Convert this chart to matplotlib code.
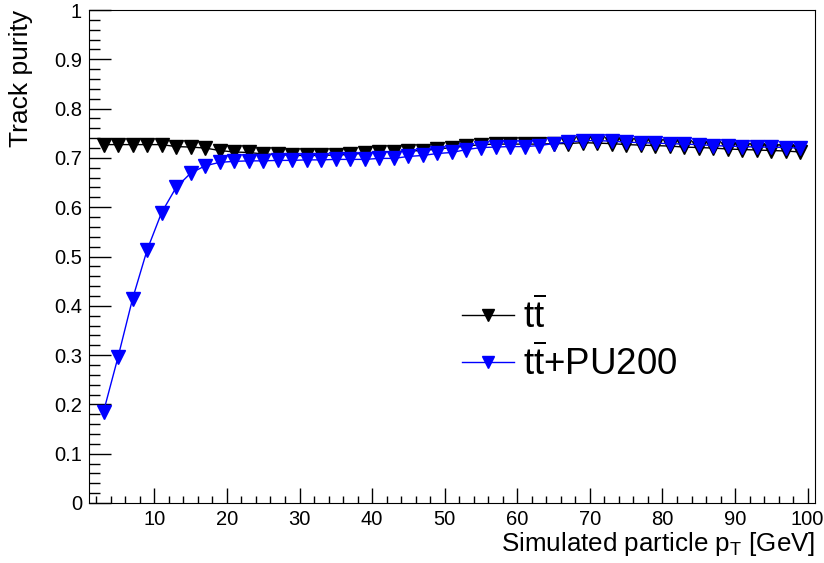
import matplotlib
matplotlib.use("Agg")
import matplotlib.pyplot as plt
import numpy as np
from matplotlib.ticker import MultipleLocator

plt.rcParams['font.family'] = ['Liberation Sans', 'DejaVu Sans']
plt.rcParams['mathtext.fontset'] = 'custom'
plt.rcParams['mathtext.rm'] = 'Liberation Sans'
plt.rcParams['mathtext.it'] = 'Liberation Sans'

# bin centres [GeV]
pt = np.arange(3, 100, 2)

# purity, ttbar (no pile-up)
purity_tt = [0.727, 0.727, 0.727, 0.727, 0.727, 0.723, 0.722, 0.720, 0.715, 0.712,
             0.711, 0.708, 0.707, 0.705, 0.705, 0.705, 0.706, 0.707, 0.710, 0.712,
             0.713, 0.714, 0.715, 0.718, 0.721, 0.724, 0.727, 0.728, 0.728, 0.728,
             0.728, 0.729, 0.729, 0.731, 0.730, 0.729, 0.727, 0.726, 0.725, 0.724,
             0.722, 0.721, 0.720, 0.718, 0.717, 0.716, 0.715, 0.714, 0.712]

# purity, ttbar + PU200
purity_pu = [0.185, 0.296, 0.414, 0.513, 0.589, 0.640, 0.669, 0.684, 0.691, 0.693,
             0.694, 0.694, 0.695, 0.695, 0.696, 0.696, 0.697, 0.697, 0.697, 0.699,
             0.699, 0.703, 0.705, 0.709, 0.711, 0.717, 0.721, 0.722, 0.723, 0.723,
             0.725, 0.729, 0.732, 0.735, 0.735, 0.734, 0.732, 0.731, 0.730, 0.729,
             0.728, 0.727, 0.725, 0.724, 0.723, 0.722, 0.722, 0.721, 0.720]

labels = [r'$\mathrm{t\overline{t}}$', r'$\mathrm{t\overline{t}}$+PU200']

fig = plt.figure(figsize=(8.24, 5.63), dpi=100)
ax = fig.add_axes([0.108, 0.1066, 0.881, 0.8756])

ax.plot(pt, purity_tt, color='black', lw=1, marker='v', ms=10.5, label=labels[0])
ax.plot(pt, purity_pu, color='#0000ff', lw=1, marker='v', ms=10.5, label=labels[1])

ax.set_xlim(1, 101)
ax.set_ylim(0, 1)
ax.xaxis.set_major_locator(MultipleLocator(10))
ax.xaxis.set_minor_locator(MultipleLocator(2))
ax.yaxis.set_minor_locator(MultipleLocator(0.02))
ax.set_yticks(np.arange(0, 1.01, 0.1))
ax.set_yticklabels(['0', '0.1', '0.2', '0.3', '0.4', '0.5', '0.6', '0.7', '0.8', '0.9', '1'])

ax.tick_params(axis='both', which='both', direction='in', top=False, right=False, labelsize=14.5, width=1)
ax.tick_params(axis='x', which='major', length=11, pad=5)
ax.tick_params(axis='x', which='minor', length=5)
ax.tick_params(axis='y', which='major', length=16, pad=5)
ax.tick_params(axis='y', which='minor', length=8)

ax.set_xlabel(r'Simulated particle p$_\mathrm{T}$ [GeV]', fontsize=18.7, loc='right', labelpad=1)
ax.set_ylabel('Track purity', fontsize=19, loc='top')
ax.yaxis.set_label_coords(-0.077, 1.0)

ax.legend(loc='upper left', bbox_to_anchor=(462 / 824, 1 - 297 / 563), bbox_transform=fig.transFigure,
          frameon=False, fontsize=26.5, handlelength=1.4, handletextpad=0.25, labelspacing=0.25,
          borderpad=0, borderaxespad=0, markerscale=0.85)

plt.savefig("out.png", dpi=100)
plt.close()
